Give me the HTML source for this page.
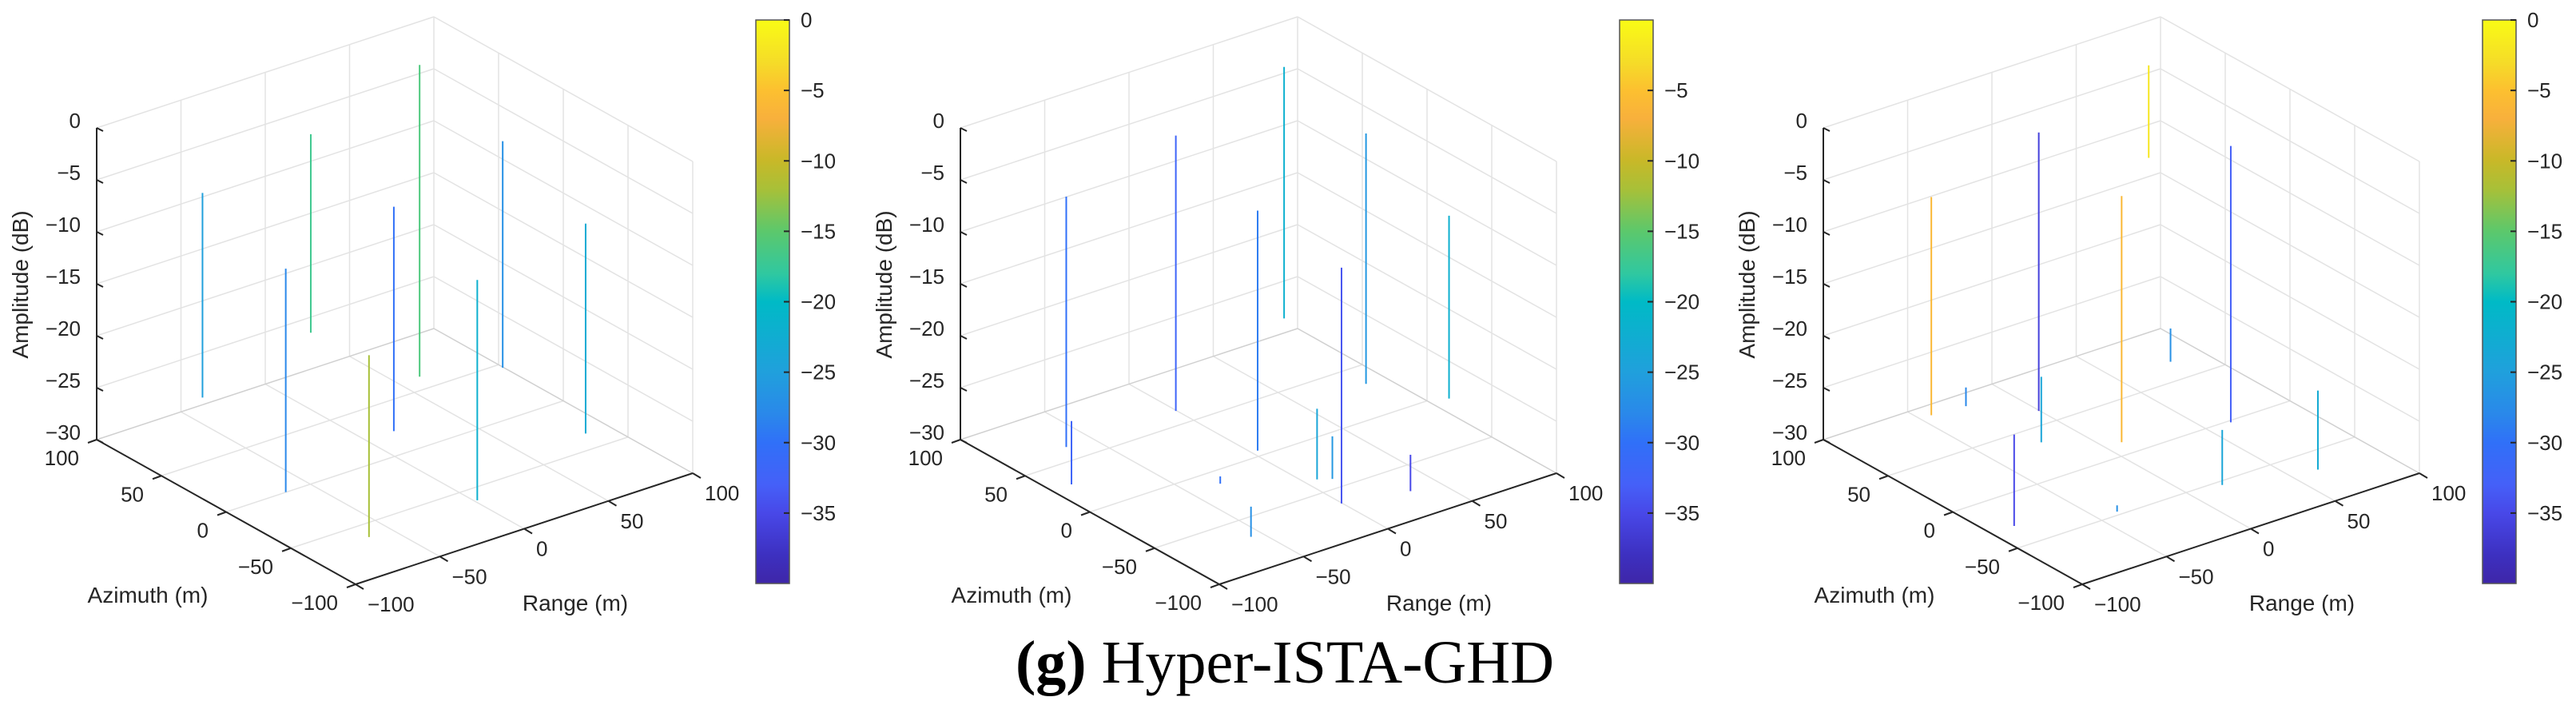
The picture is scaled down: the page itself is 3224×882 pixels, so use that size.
<!DOCTYPE html>
<html><head><meta charset="utf-8"><style>
html,body{margin:0;padding:0;background:#fff;}
svg{display:block;}
text{font-family:"Liberation Sans",Arial,sans-serif;fill:#262626;}
</style></head><body>
<svg id="fig" width="3224" height="882" viewBox="0 0 3224 882" xmlns="http://www.w3.org/2000/svg">
<text x="1608" y="854" text-anchor="middle" style="font-family:'Liberation Serif',serif;font-size:76px;fill:#000"><tspan font-weight="bold">(g)</tspan> Hyper-ISTA-GHD</text>
</svg>
<script>
// ---- data (per panel) ----
const p1Azimuth=[99,-7,100,-70,15,55,-69,39,-42];
const p1Range=[-38,-70,27,-69,11,57,-4,94,81];
const p1Top=[-9.5,-7.7,-7.4,-11.7,-7.6,0.8,-8,-7.4,-9];
const p1Bottom=[-29.2,-29.2,-26.5,-29.2,-29.2,-29.2,-29.2,-29.2,-29.2];
const p1Color=[-25,-28,-17,-12,-30,-16,-22,-27,-23];

const p2Azimuth=[56,22,56,-20,-75,-2,100,-44,-48,-72,25,-81,-17];
const p2Range=[-71,-94,-6,-38,-62,-2,92,1,7,-6,83,28,100];
const p2Top=[-5.1,-23.1,-2.7,-28.5,-26.3,-6.1,-4.4,-22.4,-25.1,-6.5,-5.1,-25.7,-11];
const p2Bottom=[-29.2,-29.2,-29.2,-29.2,-29.2,-29.2,-28.6,-29.2,-29.2,-29.2,-29.2,-29.2,-28.6];
const p2Color=[-30,-32,-32,-30,-27,-29,-22,-24,-26,-34,-26,-35,-22];

const p3Azimuth=[83,81,-37,56,28,-54,5,100,61,-61,-9,-75];
const p3Range=[-49,-30,-92,-6,-26,-44,4,93,76,13,58,59];
const p3Top=[-8.2,-27.4,-20.4,-2.4,-22.9,-28.6,-5.5,-4.3,-26,-23.9,-2.6,-21.6];
const p3Bottom=[-29.2,-29.2,-29.2,-29.2,-29.2,-29.2,-29.2,-13.2,-29.2,-29.2,-29.2,-29.2];
const p3Color=[-6,-28,-35,-36,-24,-27,-6,-2,-27,-24,-33,-23];

const zTicks=[0,-5,-10,-15,-20,-25,-30];
const azTicks=[100,50,0,-50,-100];
const rgTicks=[-100,-50,0,50,100];
const cbTicks=[0,-5,-10,-15,-20,-25,-30,-35];
const cbTicks2=[-5,-10,-15,-20,-25,-30,-35];
const cmapVals=[-40,-38,-35,-33,-30,-28,-25,-20,-18,-15,-12,-10,-7,-5,-3,0];
const cmapCols=['#3e26a8','#3d30c0','#4848e8','#4560f8','#3070f8','#2a88ea','#20a0dc','#00bac6','#30c8a0','#5cc86c','#a8c038','#c8b828','#f8b03c','#fcc030','#f5dc28','#f9fb15'];

const svg=document.getElementById('fig');
const NS='http://www.w3.org/2000/svg';
function mk(tag,attrs,parent){const e=document.createElementNS(NS,tag);for(const k in attrs)e.setAttribute(k,attrs[k]);(parent||svg).appendChild(e);return e;}
function hex(h){return [parseInt(h.substr(1,2),16),parseInt(h.substr(3,2),16),parseInt(h.substr(5,2),16)];}
function cmap(v){
  if(v<=cmapVals[0])return cmapCols[0];
  for(let i=1;i<cmapVals.length;i++){if(v<=cmapVals[i]){const t=(v-cmapVals[i-1])/(cmapVals[i]-cmapVals[i-1]);const a=hex(cmapCols[i-1]),b=hex(cmapCols[i]);return 'rgb('+a.map((x,j)=>Math.round(x+(b[j]-x)*t)).join(',')+')';}}
  return cmapCols[cmapCols.length-1];
}
const F=[445,731], LA=[-324,-181], RA=[422,-139], ZS=13;
function P(a,r,z,ox){const u=(a+100)/200,v=(r+100)/200;return [ox+F[0]+u*LA[0]+v*RA[0], F[1]+u*LA[1]+v*RA[1]-(z+30)*ZS];}
function line(g,p,q,col,w){return mk('line',{x1:p[0],y1:p[1],x2:q[0],y2:q[1],stroke:col,'stroke-width':w},g);}
const cbX=946,cbW=42,cbTop=25,cbBot=730;
function cbY(v){return cbTop+(0-v)/40*(cbBot-cbTop);}

function panel(idx,ox,az,rg,top,bot,col,cbt){
  const g=mk('g',{});
  
  
  const grid='#e3e3e3';
  for(const t of [-50,0,50]){line(g,P(t,-100,-30,ox),P(t,100,-30,ox),grid,1.5);line(g,P(-100,t,-30,ox),P(100,t,-30,ox),grid,1.5);}
  for(const t of [-50,0,50,100]){line(g,P(100,t,-30,ox),P(100,t,0,ox),grid,1.5);}
  for(const z of [-25,-20,-15,-10,-5,0]){line(g,P(100,-100,z,ox),P(100,100,z,ox),grid,1.5);}
  for(const t of [-100,-50,0,50]){line(g,P(t,100,-30,ox),P(t,100,0,ox),grid,1.5);}
  for(const z of [-25,-20,-15,-10,-5,0]){line(g,P(-100,100,z,ox),P(100,100,z,ox),grid,1.5);}
  line(g,P(100,100,-30,ox),P(-100,100,-30,ox),'#d0d0d0',1.5);
  line(g,P(100,100,-30,ox),P(100,-100,-30,ox),'#d0d0d0',1.5);
  const ax='#262626';
  line(g,P(100,-100,-30,ox),P(100,-100,0,ox),ax,2);
  line(g,P(100,-100,-30,ox),P(-100,-100,-30,ox),ax,2);
  line(g,P(-100,-100,-30,ox),P(-100,100,-30,ox),ax,2);
  for(const z of zTicks){const p=P(100,-100,z,ox);line(g,p,[p[0]+8,p[1]+4],ax,2);
    const t=mk('text',{x:p[0]-20,y:p[1],'text-anchor':'end','font-size':26},g);t.textContent=String(z).replace('-','\u2212');
    }
  for(const a of azTicks){const p=P(a,-100,-30,ox);line(g,p,[p[0]-11,p[1]+4],ax,2);
    const t=mk('text',{x:p[0]-22,y:p[1]+32,'text-anchor':'end','font-size':26},g);t.textContent=String(a).replace('-','\u2212');
    }
  for(const r of rgTicks){const p=P(-100,r,-30,ox);line(g,p,[p[0]+10,p[1]+6],ax,2);
    const t=mk('text',{x:p[0]+15,y:p[1]+34,'text-anchor':'start','font-size':26},g);t.textContent=String(r).replace('-','\u2212');
    }
  let t=mk('text',{x:0,y:0,'text-anchor':'middle','font-size':28,transform:'translate('+(ox+35)+',356) rotate(-90)'},g);t.textContent='Amplitude (dB)';
  
  t=mk('text',{x:ox+185,y:754,'text-anchor':'middle','font-size':28},g);t.textContent='Azimuth (m)';
  
  t=mk('text',{x:ox+720,y:764,'text-anchor':'middle','font-size':28},g);t.textContent='Range (m)';
  
  for(let i=0;i<az.length;i++){
    const l=line(g,P(az[i],rg[i],bot[i],ox),P(az[i],rg[i],top[i],ox),cmap(col[i]),2);
    
    
  }
  const gid='cbg'+idx;
  const defs=mk('defs',{},g);const lg=mk('linearGradient',{id:gid,x1:0,y1:1,x2:0,y2:0},defs);
  for(let i=0;i<cmapVals.length;i++)mk('stop',{offset:(cmapVals[i]+40)/40,'stop-color':cmapCols[i]},lg);
  const rc=mk('rect',{x:ox+cbX,y:cbTop,width:cbW,height:cbBot-cbTop,fill:'url(#'+gid+')',stroke:'#555',"stroke-width":1.5},g);
  
  for(const v of cbt){const y=cbY(v);line(g,[ox+cbX+cbW-7,y],[ox+cbX+cbW,y],'#262626',2);
    const tt=mk('text',{x:ox+1002,y:y+9,'text-anchor':'start','font-size':26},g);tt.textContent=String(v).replace('-','\u2212');
    }
}
panel(1,0,p1Azimuth,p1Range,p1Top,p1Bottom,p1Color,cbTicks);
panel(2,1081,p2Azimuth,p2Range,p2Top,p2Bottom,p2Color,cbTicks2);
panel(3,2161,p3Azimuth,p3Range,p3Top,p3Bottom,p3Color,cbTicks);
</script>
</body></html>
